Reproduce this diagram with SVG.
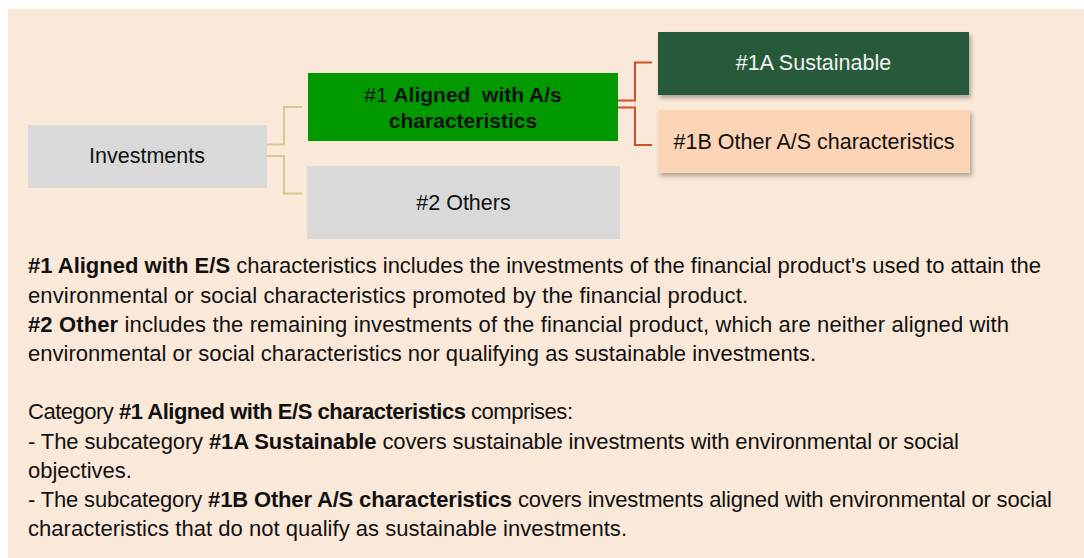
<svg xmlns="http://www.w3.org/2000/svg" width="1084" height="558" viewBox="0 0 1084 558">
  <defs>
    <filter id="shadow" x="-10%" y="-20%" width="120%" height="150%">
      <feDropShadow dx="2" dy="3" stdDeviation="2" flood-color="#000" flood-opacity="0.3"/>
    </filter>
    <style>
      .lbl { font-family: "Liberation Sans", Arial, sans-serif; font-size: 21.5px; fill: #111; text-anchor: middle; }
      .body { font-family: "Liberation Sans", Arial, sans-serif; font-size: 22px; fill: #111; }
      .b { font-weight: bold; }
      .tan { fill: none; stroke: #D6C98D; stroke-width: 2; }
      .red { fill: none; stroke: #C8502C; stroke-width: 2; }
    </style>
  </defs>
  <rect x="0" y="0" width="1084" height="558" fill="#ffffff"/>
  <rect x="8" y="9" width="1076" height="549" fill="#FAE8D8"/>

  <g id="connectors">
    <path class="tan" d="M267 144.5 H284 V107 H302"/>
    <path class="tan" d="M267 156 H284 V193.5 H302"/>
    <path class="red" d="M618 100.5 H635 V62.5 H652"/>
    <path class="red" d="M618 107.5 H635 V145 H652"/>
  </g>

  <g id="investments">
    <rect x="28" y="125" width="239" height="63" fill="#D9D9D9"/>
    <text class="lbl" x="147" y="163">Investments</text>
  </g>

  <g id="aligned">
    <rect x="308" y="73" width="310" height="68" fill="#009900"/>
    <text class="lbl" x="463" y="101.7" style="font-size:21px" xml:space="preserve">#1 <tspan class="b">Aligned  with A/s</tspan></text>
    <text class="lbl b" x="463" y="128.3" style="font-size:21px">characteristics</text>
  </g>

  <g id="others">
    <rect x="307" y="166" width="313" height="73" fill="#D9D9D9"/>
    <text class="lbl" x="463.5" y="210">#2 Others</text>
  </g>

  <g id="sustainable">
    <rect x="658" y="32" width="311" height="63" fill="#265A3B" filter="url(#shadow)"/>
    <text class="lbl" x="813.5" y="70" style="fill:#F2F2F2">#1A Sustainable</text>
  </g>

  <g id="other-as">
    <rect x="658" y="110" width="312" height="63" fill="#FBD5B5" filter="url(#shadow)"/>
    <text class="lbl" x="814" y="149">#1B Other A/S characteristics</text>
  </g>

  <g id="description">
    <text class="body" x="28" y="273.3" textLength="1013"><tspan class="b">#1 Aligned with E/S</tspan> characteristics includes the investments of the financial product's used to attain the</text>
    <text class="body" x="28" y="302.5" textLength="720">environmental or social characteristics promoted by the financial product.</text>
    <text class="body" x="28" y="331.7" textLength="981"><tspan class="b">#2 Other</tspan> includes the remaining investments of the financial product, which are neither aligned with</text>
    <text class="body" x="28" y="360.9" textLength="788">environmental or social characteristics nor qualifying as sustainable investments.</text>
    <text class="body" x="28" y="419.3" textLength="545">Category <tspan class="b">#1 Aligned with E/S characteristics</tspan> comprises:</text>
    <text class="body" x="28" y="448.5" textLength="931">- The subcategory <tspan class="b">#1A Sustainable</tspan> covers sustainable investments with environmental or social</text>
    <text class="body" x="28" y="477.7">objectives.</text>
    <text class="body" x="28" y="506.9" textLength="1024">- The subcategory <tspan class="b">#1B Other A/S characteristics</tspan> covers investments aligned with environmental or social</text>
    <text class="body" x="28" y="536.1" textLength="599">characteristics that do not qualify as sustainable investments.</text>
  </g>
</svg>
